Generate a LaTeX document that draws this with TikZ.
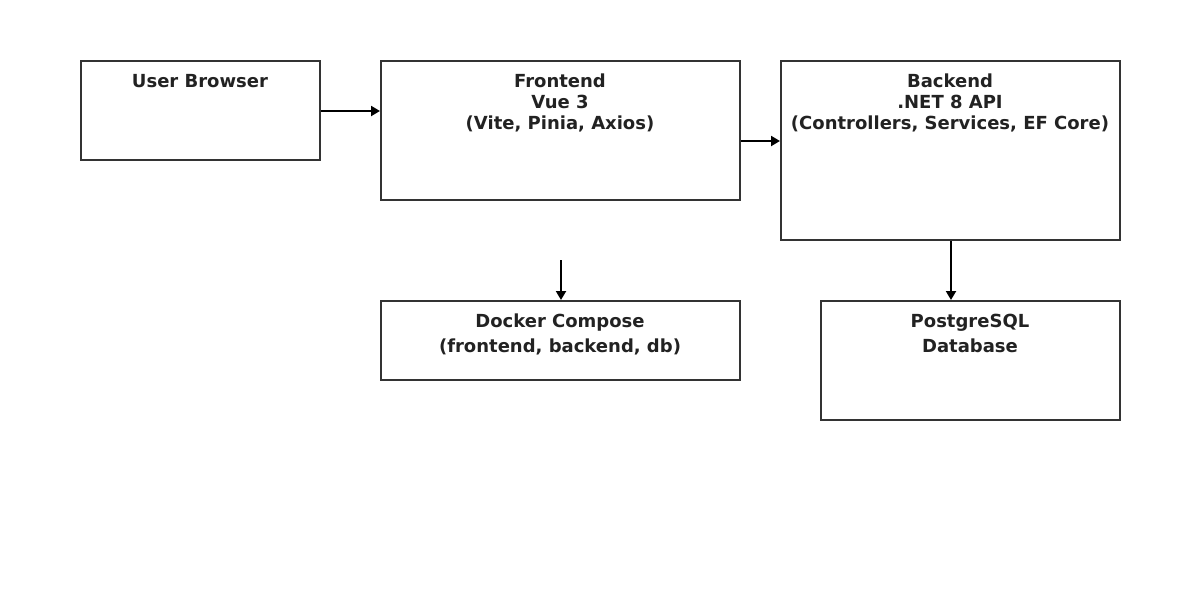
\documentclass[tikz,border=0pt]{standalone}
\usepackage{fontspec}
\setmainfont{DejaVu Sans}
\usetikzlibrary{arrows.meta}
\definecolor{boxline}{HTML}{333333}
\definecolor{txt}{HTML}{222222}
\tikzset{
  box/.style={draw=boxline, line width=2pt, fill=white, inner sep=0pt},
  lbl/.style={anchor=base, inner sep=0pt, text=txt, font=\fontsize{18}{21}\selectfont\bfseries},
  arr/.style={draw=black, line width=2pt, -{Triangle[length=9pt,width=10pt]}}
}
\begin{document}
\begin{tikzpicture}[x=1pt,y=-1pt]
\useasboundingbox (0,0) rectangle (1200,600);
\fill[white] (0,0) rectangle (1200,600);
% boxes
\node[box, minimum width=239pt, minimum height=99pt] (ub) at (200.5,110.5) {};
\node[box, minimum width=359pt, minimum height=139pt] (fe) at (560.5,130.5) {};
\node[box, minimum width=339pt, minimum height=179pt] (be) at (950.5,150.5) {};
\node[box, minimum width=359pt, minimum height=79pt] (dc) at (560.5,340.5) {};
\node[box, minimum width=299pt, minimum height=119pt] (pg) at (970.5,360.5) {};
% labels
\node[lbl] (ub1) at (200,87.5) {User Browser};
\node[lbl] (fe1) at (560,87.5) {Frontend};
\node[lbl] (fe2) at (560,108.5) {Vue 3};
\node[lbl] (fe3) at (560,129.5) {(Vite, Pinia, Axios)};
\node[lbl] (be1) at (950,87.5) {Backend};
\node[lbl] (be2) at (950,108.5) {.NET 8 API};
\node[lbl] (be3) at (950,129.5) {(Controllers, Services, EF Core)};
\node[lbl] (dc1) at (560,327.5) {Docker Compose};
\node[lbl] (dc2) at (560,352.5) {(frontend, backend, db)};
\node[lbl] (pg1) at (970,327.5) {PostgreSQL};
\node[lbl] (pg2) at (970,352.5) {Database};
% connectors
\coordinate (dcin) at (561,260);
\draw[arr] (ub.east |- 0,111) -- (fe.west |- 0,111);
\draw[arr] (fe.east |- 0,141) -- (be.west |- 0,141);
\draw[arr] (dcin) -- (dcin |- dc.north);
\draw[arr] (be.south -| 951,0) -- (pg.north -| 951,0);
\end{tikzpicture}
\end{document}
